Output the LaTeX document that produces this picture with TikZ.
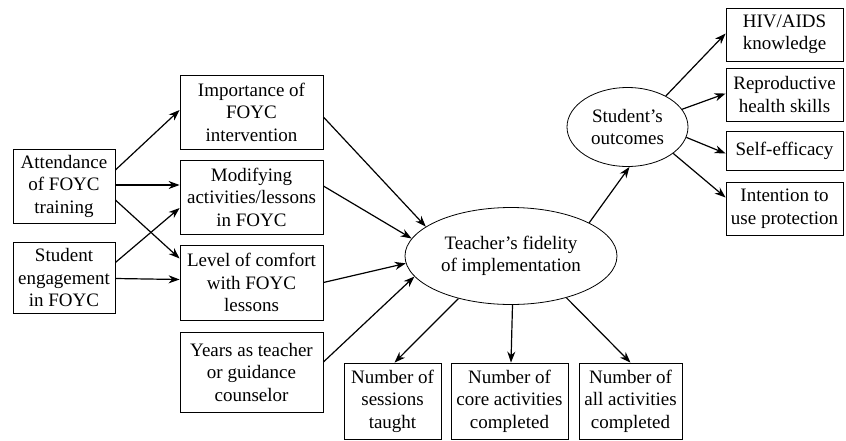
\documentclass[tikz,border=0pt]{standalone}
\usepackage{fontspec}
\setmainfont{Liberation Serif}
\usepackage{tikz}
\usetikzlibrary{arrows, arrows.meta, calc, positioning, shapes}
\usetikzlibrary{shapes.geometric}

\tikzset{
	box/.style={draw, line width=0.8pt, align=center, inner sep=0pt, font=\fontsize{19}{22.5}\selectfont},
	oval/.style={draw, ellipse, line width=0.8pt, align=center, inner sep=0pt, font=\fontsize{19}{22.5}\selectfont},
	link/.style={->, >={Stealth[length=11pt,width=8pt,inset=3.5pt]}, line width=1.2pt}
}

\begin{document}
\begin{tikzpicture}[x=1pt, y=-1pt]
		\useasboundingbox (0,0) rectangle (846,440);
		% predictors
		\node(att)  [box, minimum width=102pt, minimum height=74pt] at (64,186)  {Attendance\\of FOYC\\training};
		\node(eng)  [box, minimum width=102pt, minimum height=71pt] at (64,277.5)  {Student\\engagement\\in FOYC};
		\node(imp)  [box, minimum width=143pt, minimum height=74pt] at (251.5,112)  {Importance of\\FOYC\\intervention};
		\node(mod)  [box, minimum width=143pt, minimum height=74pt] at (251.5,197)  {Modifying\\activities/lessons\\in FOYC};
		\node(lev)  [box, minimum width=143pt, minimum height=75pt] at (251.5,282.5)  {Level of comfort\\with FOYC\\lessons};
		\node(yrs)  [box, minimum width=143pt, minimum height=80pt] at (251.5,372)  {Years as teacher\\or guidance\\counselor};
		% fidelity
		\node(fid)  [oval, minimum width=212pt, minimum height=97pt] at (511,256)  {Teacher's fidelity\\of implementation};
		\node(ses)  [box, minimum width=97pt, minimum height=76pt] at (392.5,401)  {Number of\\sessions\\taught};
		\node(core) [box, minimum width=117pt, minimum height=76pt] at (509.5,401)  {Number of\\core activities\\completed};
		\node(all)  [box, minimum width=103pt, minimum height=76pt] at (630.5,401)  {Number of\\all activities\\completed};
		% outcomes
		\node(out)  [oval, minimum width=121pt, minimum height=79pt] at (627.5,127)  {Student's\\outcomes};
		\node(hiv)  [box, minimum width=117pt, minimum height=53pt] at (784.5,34.5)  {HIV/AIDS\\knowledge};
		\node(rep)  [box, minimum width=117pt, minimum height=53pt] at (784.5,94.5)  {Reproductive\\health skills};
		\node(eff)  [box, minimum width=117pt, minimum height=39pt] at (784.5,150.5)  {Self-efficacy};
		\node(prot) [box, minimum width=117pt, minimum height=53pt] at (784.5,208.5)  {Intention to\\use protection};
		
		\draw[link] ([yshift=16pt]att.east) -- ([yshift=2pt]imp.west);
		\draw[link] ([yshift=1pt]att.east) -- ([yshift=12pt]mod.west);
		\draw[link] ([yshift=-14pt]att.east) -- ([yshift=24pt]lev.west);
		\draw[link] ([yshift=15pt]eng.east) -- ([yshift=-11pt]mod.west);
		\draw[link] ([yshift=-1pt]eng.east) -- ([yshift=3pt]lev.west);
		
		\draw[link] ([yshift=-5pt]imp.east) -- (fid.161);
		\draw[link] ([yshift=11pt]mod.east) -- (fid.170);
		\draw[link] (lev.east) -- (fid.184);
		\draw[link] ([yshift=10pt]yrs.east) -- (fid.192);
		
		\draw[link] (fid.219) -- ([xshift=2pt]ses.north);
		\draw[link] ([xshift=1.5pt]fid.south) -- ([xshift=1.5pt]core.north);
		\draw[link] (fid.323) -- (all.north);
		\draw[link] (fid.23) -- ([xshift=2pt]out.south);
		
		\draw[link] (out.39) -- ([yshift=1pt]hiv.west);
		\draw[link] (out.18) -- ([yshift=1pt]rep.west);
		\draw[link] (out.350) -- ([yshift=-3pt]eff.west);
		\draw[link] (out.330) -- ([yshift=11pt]prot.west);
		\end{tikzpicture}
\end{document}
